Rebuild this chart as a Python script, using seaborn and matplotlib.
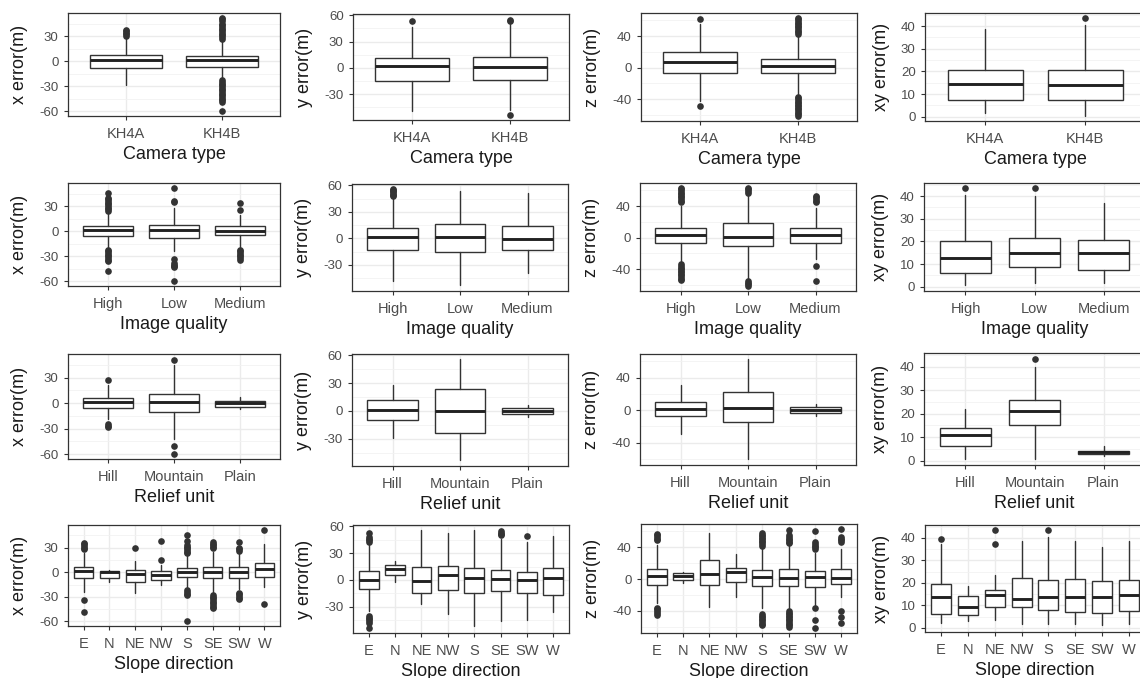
import numpy as np
import pandas as pd
import matplotlib
matplotlib.use('Agg')
import matplotlib.pyplot as plt
from matplotlib.ticker import MultipleLocator
import seaborn as sns

# ---- categories ----
camera_types = ['KH4A', 'KH4B']
image_quality = ['High', 'Low', 'Medium']
relief_units = ['Hill', 'Mountain', 'Plain']
slope_dirs = ['E', 'N', 'NE', 'NW', 'S', 'SE', 'SW', 'W']

# box stats per category: [lower whisker, q1, median, q3, upper whisker]
# outliers per category

# Camera type
cam_x_box = [[-28, -8, 1.2, 7.2, 27], [-21, -6.8, 1.2, 6, 25]]
cam_x_out = [[30, 32, 34, 36, 37],
             [27, 29, 31, 33, 35, 37, 39, 41, 43, 45, 48, 50, 52,
              -23, -25, -27, -29, -31, -33, -35, -37, -39, -41, -43, -45, -47, -49, -60]]
cam_y_box = [[-49, -15.4, 1.8, 11.2, 47], [-48, -13.5, 0.5, 12.7, 50]]
cam_y_out = [[54], [53, 55, -54]]
cam_z_box = [[-42, -7, 6.8, 20, 55], [-34, -7, 2.1, 11.4, 40]]
cam_z_out = [[62, -49],
             [43, 45, 47, 49, 51, 53, 55, 57, 59, 61, 63,
              -37, -39, -41, -43, -45, -47, -49, -51, -53, -55, -57, -59, -61.5]]
cam_xy_box = [[1.5, 7.4, 14.3, 20.7, 38.7], [0.3, 7.2, 14.2, 20.5, 40.6]]
cam_xy_out = [[], [43.6]]

# Image quality
iq_x_box = [[-19, -5.2, 0.8, 6, 21], [-24, -8, 1.2, 7.2, 28], [-19, -5, -0.4, 6, 19]]
iq_x_out = [[24, 26, 28, 30, 32, 34, 36, 38, 40, 46, -22, -24, -26, -28, -30, -32, -34, -36, -48],
            [35, 36, 52, -33, -38, -40, -42, -43, -60],
            [25, 34, -22, -24, -26, -28, -30, -32, -34]]
iq_y_box = [[-47.8, -12.6, 1.1, 11.5, 45], [-52.5, -15.5, 1.1, 16, 54], [-39, -12.6, -0.7, 14, 51]]
iq_y_out = [[47.5, 49, 50.5, 52, 53.5, 55, 56], [], []]
iq_z_box = [[-30, -6.4, 2.9, 11.9, 40], [-52, -10.7, 0.8, 17.9, 54], [-27, -6.4, 2.9, 11.9, 38]]
iq_z_out = [[45, 47, 49, 51, 53, 55, 57, 59, 61, 63,
             -34, -36, -38, -40, -42, -44, -46, -48, -50, -52, -54],
            [57, 59, 61, 63, -55, -57, -59, -61.5],
            [45, 47, 49, 51, 53, -36, -55]]
iq_xy_box = [[1, 6.2, 12.8, 20.1, 40.4], [1.8, 8.7, 14.7, 21.5, 40], [1.8, 7.6, 14.7, 20.6, 36.8]]
iq_xy_out = [[43.6], [43.5], []]

# Relief unit
rel_x_box = [[-19, -5.8, 0.8, 5.4, 21], [-42.7, -11, 1.5, 10.8, 45], [-6.6, -4, 0.3, 3, 7]]
rel_x_out = [[27, -25, -27, -28], [51, -50.5, -60], []]
rel_y_box = [[-29, -10.2, 1.5, 11.7, 28], [-53, -24, -0.4, 23.4, 56], [-6.6, -3.6, 0, 3.3, 6.2]]
rel_y_out = [[], [], []]
rel_z_box = [[-29, -7.4, 0.8, 10.3, 30.8], [-60.7, -14.3, 2.9, 22.6, 63], [-7, -4, 0, 3.7, 7.8]]
rel_z_out = [[], [], []]
rel_xy_box = [[0.7, 6.4, 10.7, 13.8, 22], [0.7, 15, 21.2, 25.9, 39.9], [1.9, 2.7, 3.6, 4.3, 6.1]]
rel_xy_out = [[], [43.3], []]

# Slope direction
sd_x_box = [[-24, -6.8, 2, 6.8, 24], [-12, -7.2, 0.8, 2, 3], [-25, -12, -2, 3.2, 14],
            [-16, -10, -3.2, 1.2, 9], [-18, -6, 0, 5.2, 20], [-24, -6.8, 0.8, 6.8, 25],
            [-21, -6.8, 0, 6.8, 22], [-18, -6, 3.6, 10.8, 35]]
sd_x_out = [[28, 30, 32, 34, 36, -34, -49], [], [29], [15, 38],
            [23, 25, 27, 29, 31, 33, 38, 45, -22, -24, -26, -28, -60],
            [29, 31, 33, 35, 37, -28, -30, -32, -34, -36, -38, -40, -42, -44],
            [26, 28, 30, 37, -25, -27, -29, -31, -33],
            [52, -39]]
sd_y_box = [[-35, -10.4, 0, 10, 39], [-2, 5.6, 12, 16.7, 21], [-27, -14.8, -0.7, 15, 55.7],
            [-38, -11.8, 5.6, 16, 53], [-52, -14.8, 1.9, 13.8, 55.7], [-46, -13, 0.8, 11.1, 46],
            [-44.6, -14.8, 0, 8.6, 43], [-36, -17.4, 1.9, 13.8, 49.5]]
sd_y_out = [[43, 44.5, 46, 47.5, 53, -41, -42.5, -44, -46, -48, -54], [], [], [], [],
            [50, 51.5, 53, 54.5], [49], []]
sd_z_box = [[-30, -7.7, 4.3, 12.8, 43], [-5.5, -0.8, 4.3, 7.3, 8.6], [-35, -7.2, 6.4, 23.5, 58.4],
            [-22.5, -3.4, 9.4, 13.7, 31], [-36, -8.5, 2.1, 11.5, 40], [-36, -8.5, 0.9, 12.8, 42],
            [-32, -9.7, 3, 10.7, 33], [-23, -6.4, 0.9, 12.8, 38]]
sd_z_out = [[49, 51, 53, 55, 57, -36, -38, -40, -42, -44.5], [], [], [],
            [42, 44, 46, 48, 50, 52, 54, 56, 58, -44, -46, -48, -50, -52, -54, -56, -58],
            [45, 47, 49, 51, 53, 55, 62, -40, -42, -44, -46, -48, -50, -52, -54, -56, -58, -60],
            [38, 40, 42, 44, 46, 61, -36, -51, -61],
            [47, 49, 51, 53, 63, -40, -48, -55]]
sd_xy_box = [[2.2, 6, 13.7, 19.6, 37.3], [3, 5.6, 9.3, 14, 18.4], [3.4, 9.3, 14.5, 16.7, 23.3],
             [1.6, 9.3, 13, 22.3, 38.8], [1.6, 7.8, 13.7, 21.1, 40.3], [1.6, 7.1, 13.7, 21.8, 38.8],
             [1.2, 6.6, 13.7, 20.7, 35.8], [1.6, 7.5, 14.7, 21.1, 38.5]]
sd_xy_out = [[39.5], [], [37.3, 43.6], [], [43.6], [], [], []]

row_titles = ['Camera type', 'Image quality', 'Relief unit', 'Slope direction']
col_titles = ['x error(m)', 'y error(m)', 'z error(m)', 'xy error(m)']
row_cats = [camera_types, image_quality, relief_units, slope_dirs]
boxes = [[cam_x_box, cam_y_box, cam_z_box, cam_xy_box],
         [iq_x_box, iq_y_box, iq_z_box, iq_xy_box],
         [rel_x_box, rel_y_box, rel_z_box, rel_xy_box],
         [sd_x_box, sd_y_box, sd_z_box, sd_xy_box]]
outs = [[cam_x_out, cam_y_out, cam_z_out, cam_xy_out],
        [iq_x_out, iq_y_out, iq_z_out, iq_xy_out],
        [rel_x_out, rel_y_out, rel_z_out, rel_xy_out],
        [sd_x_out, sd_y_out, sd_z_out, sd_xy_out]]
tick_steps = [30, 30, 40, 10]

# panel rectangles in pixels: left, top, right, bottom
W, H = 1140, 678
panel_px = [
    [(68, 13, 280, 116), (353, 14, 569, 120), (641, 13, 857, 121), (925, 13, 1145, 121)],
    [(68, 183, 280, 286), (352, 184, 568, 291), (640, 183, 856, 291), (924, 183, 1145, 291)],
    [(68, 354, 280, 459), (352, 354, 568, 466), (640, 354, 856, 465), (924, 353, 1145, 465)],
    [(68, 525, 280, 626), (353, 525, 569, 633), (641, 524, 857, 633), (925, 525, 1145, 632)],
]

sns.set_theme(style='white')
plt.rcParams['font.family'] = ['Liberation Sans', 'DejaVu Sans']
plt.rcParams['axes.unicode_minus'] = False

EDGE = '#333333'

fig = plt.figure(figsize=(W / 100, H / 100), dpi=100)

# same data in every row, so each column shares its y range (ggplot 5% expansion)
col_lims = []
for c in range(4):
    vals = []
    for r in range(4):
        for b, o in zip(boxes[r][c], outs[r][c]):
            vals += [b[0], b[4]] + list(o)
    lo, hi = min(vals), max(vals)
    span = hi - lo
    col_lims.append((lo - 0.05 * span, hi + 0.05 * span))

for r in range(4):
    cats = row_cats[r]
    n = len(cats)
    for c in range(4):
        l, t, rr, b = panel_px[r][c]
        ax = fig.add_axes([l / W, 1 - b / H, (rr - l) / W, (b - t) / H])

        stats = [dict(whislo=s[0], q1=s[1], med=s[2], q3=s[3], whishi=s[4], fliers=[])
                 for s in boxes[r][c]]
        ax.bxp(stats, positions=range(n), widths=0.75, patch_artist=True,
               showcaps=False, showfliers=False, manage_ticks=False,
               boxprops=dict(facecolor='white', edgecolor=EDGE, linewidth=1.0),
               whiskerprops=dict(color=EDGE, linewidth=1.0),
               medianprops=dict(color='#222222', linewidth=2.1))

        pts = pd.DataFrame([(cat, v) for cat, vs in zip(cats, outs[r][c]) for v in vs],
                           columns=['cat', 'val'])
        if len(pts):
            sns.stripplot(data=pts, x='cat', y='val', order=cats, jitter=False,
                          color=EDGE, size=4.8, linewidth=0, ax=ax, zorder=4)

        ax.set_xlim(-0.6, n - 0.4)
        ax.set_ylim(*col_lims[c])
        ax.set_xticks(range(n))
        ax.set_xticklabels(cats)
        ax.yaxis.set_major_locator(MultipleLocator(tick_steps[c]))
        ax.yaxis.set_minor_locator(MultipleLocator(tick_steps[c] / 2))
        ax.set_axisbelow(True)
        ax.grid(True, which='major', color='#EBEBEB', linewidth=1.0)
        ax.grid(True, which='minor', axis='y', color='#F2F2F2', linewidth=0.6)
        ax.tick_params(which='major', length=2.75, width=0.8, color=EDGE,
                       labelcolor='#4D4D4D', bottom=True, left=True)
        ax.tick_params(axis='y', which='major', labelsize=9.5, pad=4)
        ax.tick_params(axis='x', which='major', labelsize=10.5, pad=5.5)
        ax.tick_params(which='minor', length=0)
        for sp in ax.spines.values():
            sp.set_visible(True)
            sp.set_color(EDGE)
            sp.set_linewidth(0.9)
        ax.set_xlabel(row_titles[r], fontsize=13, color='#1A1A1A', labelpad=3)
        ax.set_ylabel(col_titles[c], fontsize=13, color='#1A1A1A', labelpad=8)

fig.savefig('out.png', dpi=100)
